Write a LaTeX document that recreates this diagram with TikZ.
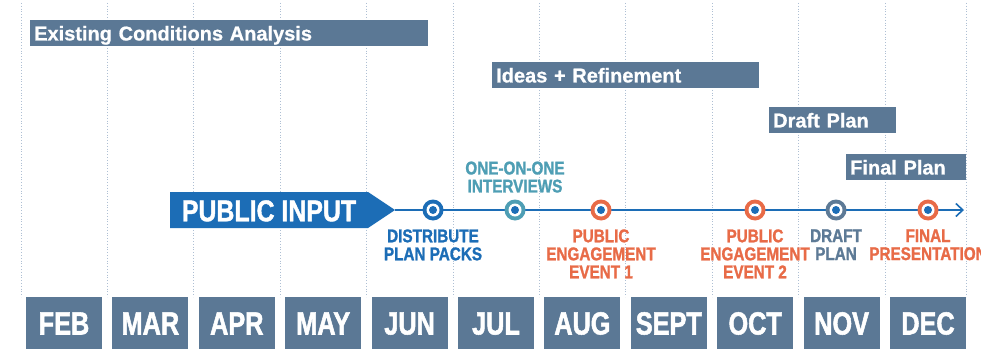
\documentclass[tikz,border=0pt]{standalone}
\usepackage{fontspec}
\setmainfont{Liberation Sans}[BoldFeatures={FakeBold=0.8}]
\newfontfamily\monthfont[FakeStretch=0.79,BoldFeatures={FakeBold=1.6}]{Liberation Sans}
\newfontfamily\condfont[FakeStretch=0.83,BoldFeatures={FakeBold=1.3}]{Liberation Sans}
\usetikzlibrary{arrows.meta,positioning}
\definecolor{slate}{HTML}{5B7895}
\definecolor{tlblue}{HTML}{1C6DB6}
\definecolor{tealc}{HTML}{4E9EB4}
\definecolor{orangec}{HTML}{E86B47}
\definecolor{draftc}{HTML}{5D7A96}
\definecolor{gridc}{HTML}{AEBFD3}
\begin{document}
\begin{tikzpicture}[x=1pt,y=-1pt,
  gridline/.style={gridc, line width=0.8pt, dotted},
  bar/.style={fill=slate, text=white, font=\fontsize{20}{22}\selectfont\bfseries,
    anchor=north west, minimum height=26pt, inner xsep=4pt, inner ysep=0pt,
    text height=14.5pt, text depth=0pt, align=left},
  month/.style={fill=slate, text=white, font=\monthfont\bfseries\fontsize{32}{34}\selectfont,
    minimum width=76pt, minimum height=52pt, inner sep=0pt, text height=23pt, text depth=0pt},
  marker/.style={circle, fill=#1, minimum size=21pt, inner sep=0pt,
    path picture={\fill[white] (path picture bounding box.center) circle (6.5);
                  \fill[tlblue] (path picture bounding box.center) circle (4);}},
  lbl/.style={font=\condfont\bfseries\fontsize{18.4}{18}\selectfont, align=center, inner sep=0pt},
  timeline/.style={tlblue, line width=1.8pt, -{Straight Barb[length=7pt,width=13pt,line width=1.6pt]}}
]
\useasboundingbox (0,0) rectangle (981,350);
\fill[white] (0,0) rectangle (981,350);

% grid
\foreach \k in {0,...,10} \draw[gridline] ({21+86.4*\k},3) -- ({21+86.4*\k},297);
\draw[gridline] (966,3) -- (966,297);

% phase bars
\node[bar, text width=390pt] (eca) at (30,20) {Existing Conditions Analysis};
\node[bar, text width=259pt] (ideas) at (492,62) {Ideas + Refinement};
\node[bar, text width=119pt] (draft) at (769,107) {Draft Plan};
\node[bar, text width=112pt] (final) at (846,154) {Final Plan};

% months
\foreach \m [count=\i from 0] in {FEB,MAR,APR,MAY,JUN,JUL,AUG,SEPT,OCT,NOV,DEC}
  \node[month] (m\i) at ({64+86.4*\i},323) {\m};

% public input arrow
\fill[tlblue] (170,192) -- (368,192) -- (395,210) -- (368,228) -- (170,228) -- cycle;
\coordinate (pitip) at (395,210);
\coordinate (tlend) at (964,210);
\node[font=\condfont\bfseries\fontsize{30}{31}\selectfont, text=white,
  text height=21.5pt, text depth=0pt, inner sep=0pt] (pi) at (269,210.5) {PUBLIC INPUT};

% timeline
\draw[timeline] (pitip) -- (tlend);

% markers
\node[marker=tlblue] (mdist) at (433,210) {};
\node[marker=tealc] (mone) at (515,210) {};
\node[marker=orangec] (mpe1) at (601,210) {};
\node[marker=orangec] (mpe2) at (755,210) {};
\node[marker=draftc] (mdraft) at (836,210) {};
\node[marker=orangec] (mfinal) at (928,210) {};

% labels
\node[lbl, text=tlblue, below=8.5pt of mdist] (ldist) {DISTRIBUTE\\PLAN PACKS};
\node[lbl, text=tealc, above=6.5pt of mone] (lone) {ONE-ON-ONE\\INTERVIEWS};
\node[lbl, text=orangec, below=8.5pt of mpe1] (lpe1) {PUBLIC\\ENGAGEMENT\\EVENT 1};
\node[lbl, text=orangec, below=8.5pt of mpe2] (lpe2) {PUBLIC\\ENGAGEMENT\\EVENT 2};
\node[lbl, text=draftc, below=8.5pt of mdraft] (ldraft) {DRAFT\\PLAN};
\node[lbl, text=orangec, below=8.5pt of mfinal] (lfinal) {FINAL\\PRESENTATION};
\end{tikzpicture}
\end{document}
